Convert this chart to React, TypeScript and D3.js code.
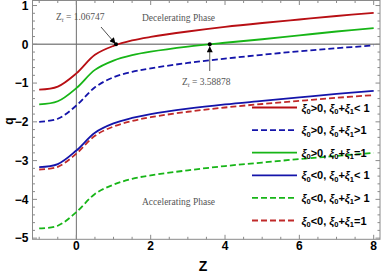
import React from 'react';
import * as d3 from 'd3';

const W = 382;
const H = 273;

const zs = [-1, -0.5, 0, 0.5, 1, 1.5, 2, 3, 4, 5, 6, 7, 8];

const redSolid = [-1.17, -1.09, -0.75, -0.27, -0.04, 0.10, 0.19, 0.33, 0.45, 0.55, 0.64, 0.73, 0.81];
const blueDashed = [-2.0, -1.92, -1.58, -1.11, -0.85, -0.71, -0.62, -0.48, -0.37, -0.27, -0.18, -0.10, -0.03];
const greenSolid = [-1.55, -1.47, -1.13, -0.66, -0.42, -0.28, -0.19, -0.06, 0.04, 0.13, 0.23, 0.33, 0.42];
const blueSolid = [-3.17, -3.09, -2.74, -2.28, -2.04, -1.90, -1.80, -1.66, -1.55, -1.46, -1.37, -1.28, -1.20];
const greenDashed = [-4.75, -4.68, -4.33, -3.86, -3.62, -3.47, -3.38, -3.25, -3.14, -3.05, -2.96, -2.88, -2.80];
const redDashed = [-3.23, -3.16, -2.82, -2.36, -2.12, -1.98, -1.88, -1.74, -1.63, -1.54, -1.46, -1.38, -1.31];

const RED = '#b80f14';
const GREEN = '#17b517';
const BLUE = '#1414aa';
const RED2 = '#c02a2a';

const legendRows = [
  { sign: '>', rel: '< 1', vals: redSolid, color: RED, dash: '' },
  { sign: '>', rel: '>1', vals: blueDashed, color: BLUE, dash: '6,3' },
  { sign: '>', rel: '=1', vals: greenSolid, color: GREEN, dash: '' },
  { sign: '<', rel: '< 1', vals: blueSolid, color: BLUE, dash: '' },
  { sign: '<', rel: '> 1', vals: greenDashed, color: GREEN, dash: '6,3' },
  { sign: '<', rel: '=1', vals: redDashed, color: RED2, dash: '6,3' },
];

const xTicks = [0, 2, 4, 6, 8];
const yTicks = [1, 0, -1, -2, -3, -4, -5];

const zt1 = 1.06747;
const zt2 = 3.58878;

export default function App() {
  const x = d3.scaleLinear().domain([-1.18, 8.17]).range([32.5, 380]);
  const y = d3.scaleLinear().domain([-5.03, 1.13]).range([239.3, 0.5]);

  const line = d3.line<number>()
    .x((_, i) => x(zs[i]))
    .y(d => y(d))
    .curve(d3.curveCatmullRom.alpha(0.5));

  const xMinor = d3.range(-1, 8.01, 0.5);
  const yMinor = d3.range(-5, 1.01, 0.2).map(v => Math.round(v * 10) / 10);

  const left = x.range()[0];
  const right = x.range()[1];
  const top = y.range()[1];
  const bottom = y.range()[0];
  const frame = '#8a8a8a';
  const sans = 'Liberation Sans, Arial, sans-serif';
  const serif = 'Liberation Serif, Times New Roman, serif';

  const legX0 = 252;
  const legX1 = 297;
  const legY0 = 107.5;
  const legStep = 22.6;

  return (
    <svg width={W} height={H} style={{ position: 'absolute', left: 0, top: 0 }}>
      <defs>
        <marker id="ah" viewBox="0 0 10 10" refX="10" refY="5" markerWidth="9" markerHeight="6" orient="auto" markerUnits="userSpaceOnUse">
          <path d="M0,0 L10,5 L0,10 z" fill="#000" />
        </marker>
        <clipPath id="plot">
          <rect x={left} y={top} width={right - left} height={bottom - top} />
        </clipPath>
      </defs>

      {/* zero axes */}
      <line x1={left} x2={right} y1={y(0)} y2={y(0)} stroke="#8c8c8c" strokeWidth={1.4} />
      <line x1={x(0)} x2={x(0)} y1={top} y2={bottom} stroke="#6e6e6e" strokeWidth={1} />

      {/* frame */}
      <rect x={left} y={top} width={right - left} height={bottom - top} fill="none" stroke={frame} strokeWidth={1} />

      {/* ticks */}
      {xMinor.map(t => {
        const major = Math.abs(t % 2) < 1e-6;
        const len = major ? 4.5 : 2.5;
        return (
          <g key={'xt' + t}>
            <line x1={x(t)} x2={x(t)} y1={bottom} y2={bottom - len} stroke={frame} />
            <line x1={x(t)} x2={x(t)} y1={top} y2={top + len} stroke={frame} />
          </g>
        );
      })}
      {yMinor.map(t => {
        const major = Math.abs(t - Math.round(t)) < 1e-6;
        const len = major ? 4.5 : 2.5;
        return (
          <g key={'yt' + t}>
            <line x1={left} x2={left + len} y1={y(t)} y2={y(t)} stroke={frame} />
            <line x1={right} x2={right - len} y1={y(t)} y2={y(t)} stroke={frame} />
          </g>
        );
      })}

      {/* tick labels */}
      {xTicks.map(t => (
        <text key={'xl' + t} x={x(t)} y={250} textAnchor="middle" fontFamily={sans} fontWeight="bold" fontSize={12}>{t}</text>
      ))}
      {yTicks.map(t => (
        <text key={'yl' + t} x={28.5} y={y(t) + 4.3} textAnchor="end" fontFamily={sans} fontWeight="bold" fontSize={12}>
          {t < 0 ? '\u2212' + Math.abs(t) : t}
        </text>
      ))}

      {/* axis titles */}
      <text x={203} y={271} textAnchor="middle" fontFamily={sans} fontWeight="bold" fontSize={14}>Z</text>
      <text transform={`translate(13,121) rotate(-90)`} textAnchor="middle" fontFamily={sans} fontWeight="bold" fontSize={12}>q</text>

      {/* curves */}
      <g clipPath="url(#plot)">
        {legendRows.map((r, i) => (
          <path key={'c' + i} d={line(r.vals) || ''} fill="none" stroke={r.color} strokeWidth={1.8} strokeDasharray={r.dash} />
        ))}
      </g>

      {/* annotations */}
      <text x={56} y={19.5} fontFamily={serif} fontSize={9.5} fill="#555">
        Z<tspan fontSize={6.5} fontStyle="italic" dy={2}>t</tspan><tspan dy={-2}> = 1.06747</tspan>
      </text>
      <line x1={101} y1={27} x2={x(zt1) - 0.5} y2={y(0) - 0.5} stroke="#222" strokeWidth={0.8} markerEnd="url(#ah)" />
      <circle cx={x(zt1)} cy={y(0)} r={2} fill="#000" />

      <text x={182} y={85} fontFamily={serif} fontSize={9.5} fill="#555">
        Z<tspan fontSize={6.5} fontStyle="italic" dy={2}>t</tspan><tspan dy={-2}> = 3.58878</tspan>
      </text>
      <line x1={x(zt2)} y1={71} x2={x(zt2)} y2={y(0) + 2} stroke="#444" strokeWidth={0.9} markerEnd="url(#ah)" />
      <circle cx={x(zt2)} cy={y(0)} r={2} fill="#000" />

      <text x={142} y={21} fontFamily={serif} fontSize={9.5} fill="#555">Decelerating Phase</text>
      <text x={142} y={205} fontFamily={serif} fontSize={9.5} fill="#555">Accelerating Phase</text>

      {/* legend */}
      {legendRows.map((r, i) => {
        const ly = legY0 + i * legStep;
        return (
          <g key={'l' + i}>
            <line x1={legX0} x2={legX1} y1={ly} y2={ly} stroke={r.color} strokeWidth={1.8} strokeDasharray={r.dash} />
            <text x={301.5} y={ly + 4} fontFamily={sans} fontWeight="bold" fontSize={11}>
              <tspan fontStyle="italic">ξ</tspan><tspan fontSize={7.5} dy={2.5}>0</tspan>
              <tspan dy={-2.5}>{r.sign}0, </tspan>
              <tspan fontStyle="italic">ξ</tspan><tspan fontSize={7.5} dy={2.5}>0</tspan>
              <tspan dy={-2.5}>+</tspan>
              <tspan fontStyle="italic">ξ</tspan><tspan fontSize={7.5} dy={2.5}>1</tspan>
              <tspan dy={-2.5}>{r.rel}</tspan>
            </text>
          </g>
        );
      })}
    </svg>
  );
}
